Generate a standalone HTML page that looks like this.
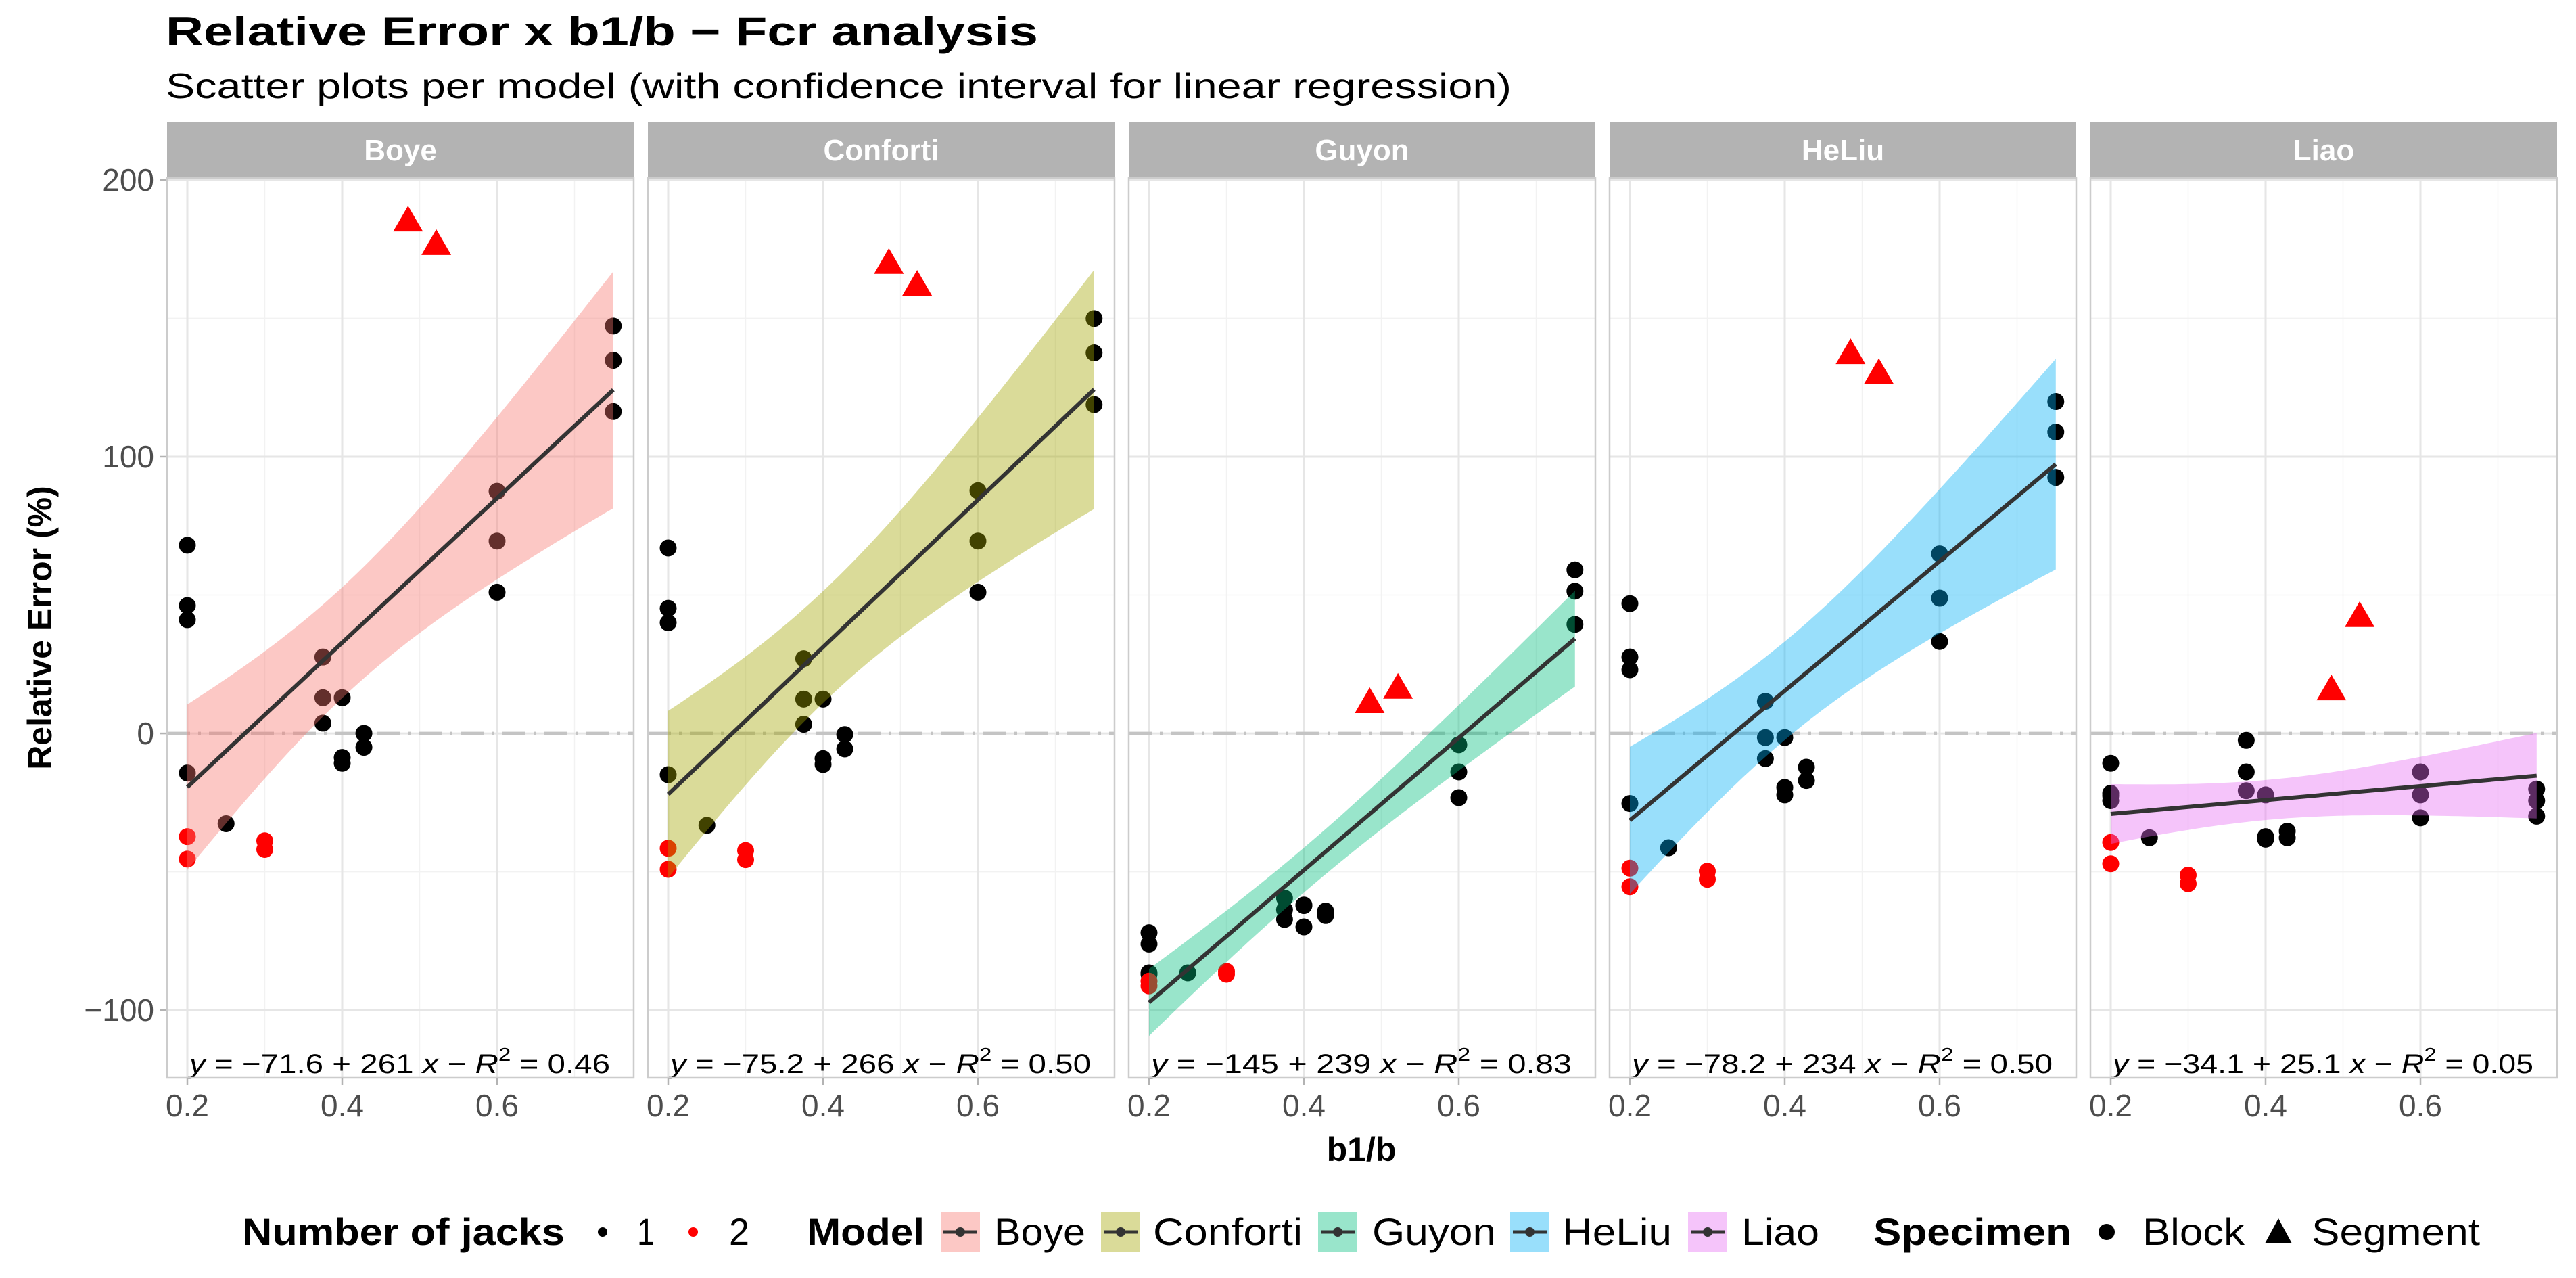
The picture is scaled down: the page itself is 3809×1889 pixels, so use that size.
<!DOCTYPE html>
<html><head><meta charset="utf-8"><style>
html,body{margin:0;padding:0;background:#fff;}
svg{display:block;}
text{font-family:"Liberation Sans",Arial,sans-serif;}
</style></head><body>
<svg id="chart" xmlns="http://www.w3.org/2000/svg" width="3809" height="1889" viewBox="0 0 3809 1889">
<rect width="3809" height="1889" fill="#fff"/>
<text x="245" y="67" font-size="60" font-weight="bold" fill="#000" textLength="1290" lengthAdjust="spacingAndGlyphs">Relative Error x b1/b − Fcr analysis</text>
<text x="245" y="145" font-size="52" fill="#000" textLength="1990" lengthAdjust="spacingAndGlyphs">Scatter plots per model (with confidence interval for linear regression)</text>
<text transform="translate(76,928) rotate(-90)" text-anchor="middle" font-size="50" font-weight="bold" fill="#000">Relative Error (%)</text>
<text x="2013" y="1716" text-anchor="middle" font-size="50" font-weight="bold" fill="#000">b1/b</text>
<g id="panels"></g>
<g id="legend"></g>
</svg>
<script>
const models = ["Boye","Conforti","Guyon","HeLiu","Liao"];
const fills = ["#F8766D","#A3A500","#00BF7D","#00B0F6","#E76BF3"];
const intercepts = [-71.6,-75.2,-145,-78.2,-34.1];
const slopes = [261,266,239,234,25.1];
const interceptLabels = ["71.6","75.2","145","78.2","34.1"];
const slopeLabels = ["261","266","239","234","25.1"];
const r2Labels = ["0.46","0.50","0.83","0.50","0.05"];
const blockX = [0.2,0.2,0.2,0.2,0.2,0.2,0.25,0.3,0.3,0.375,0.375,0.375,0.4,0.4,0.4,0.428,0.428,0.6,0.6,0.6,0.75,0.75,0.75];
const blockJacks = [1,1,1,1,2,2,1,2,2,1,1,1,1,1,1,1,1,1,1,1,1,1,1];
const boyeY = [68.0,46.2,41.1,-14.3,-37.3,-45.4,-32.6,-38.8,-41.9,27.6,12.9,3.7,12.9,-8.7,-10.8,0,-5.0,87.5,69.5,51.0,147.2,134.8,116.3];
const confortiY = [67.0,45.2,40.0,-14.9,-41.5,-49.1,-33.2,-42.3,-45.6,27.0,12.4,3.3,12.4,-9.1,-11.2,-0.4,-5.6,87.7,69.5,51.0,149.9,137.5,118.8];
const guyonY = [-72.0,-76.1,-86.5,-87.0,-89.5,-91.2,-86.5,-86.0,-87.0,-59.5,-63.7,-67.2,-62.2,-69.9,-62.0,-64.2,-65.8,-4.1,-13.9,-23.2,59.1,51.4,39.4];
const heliuY = [46.9,27.6,23.0,-25.3,-48.7,-55.4,-41.3,-49.8,-52.7,11.6,-1.5,-9.1,-1.5,-19.5,-22.2,-12.2,-17.0,64.9,48.9,33.2,119.9,108.9,92.5];
const liaoY = [-10.8,-21.6,-24.3,-22.5,-39.4,-47.1,-37.7,-51.2,-54.3,-2.5,-13.9,-20.7,-22.2,-37.3,-38.2,-35.3,-37.7,-13.9,-22.2,-30.5,-20.1,-24.3,-29.9];
const segmentX = [0.485,0.5215];
const boyeSegY = [186,177.5];
const confortiSegY = [170.7,162.8];
const guyonSegY = [12.0,17.2];
const heliuSegY = [138.1,130.9];
const liaoSegY = [16.6,43.1];
const xTicks = [0.2,0.4,0.6];
const xTickLabels = ["0.2","0.4","0.6"];
const xMinor = [0.3,0.5,0.7];
const yTicks = [-100,0,100,200];
const yTickLabels = ["\u2212100","0","100","200"];
const yMinor = [-50,50,150];

const allY = [boyeY,confortiY,guyonY,heliuY,liaoY];
const allSeg = [boyeSegY,confortiSegY,guyonSegY,heliuSegY,liaoSegY];
const NS = "http://www.w3.org/2000/svg";
const P_TOP = 263, P_BOT = 1593, P_W = 690, GAP = 21, P_LEFT0 = 247;
const X_MIN = 0.1738, X_MAX = 0.7764, Y_MIN = -124.4, Y_MAX = 200.7;
function sx(v, left){ return left + (v - X_MIN) / (X_MAX - X_MIN) * P_W; }
function sy(v){ return P_BOT - (v - Y_MIN) / (Y_MAX - Y_MIN) * (P_BOT - P_TOP); }
function mk(tag, attrs, parent){
  const e = document.createElementNS(NS, tag);
  for (const k in attrs) e.setAttribute(k, attrs[k]);
  parent.appendChild(e); return e;
}
const root = document.getElementById("panels");

yTicks.forEach((t,i)=>{
  const tk = mk("line",{x1:236,x2:247,y1:sy(t),y2:sy(t),stroke:"#b3b3b3","stroke-width":2.5},root);
  
  
  const lb = mk("text",{x:228,y:sy(t)+16,"text-anchor":"end","font-size":46,fill:"#4d4d4d"},root);
  lb.textContent = yTickLabels[i];
  
  
});

models.forEach((m, mi)=>{
  const left = P_LEFT0 + mi*(P_W+GAP);
  const g = mk("g",{},root);
  
  
  const st = mk("rect",{x:left,y:180,width:P_W,height:83,fill:"#b3b3b3"},g);
  
  
  const stt = mk("text",{x:left+P_W/2,y:237,"text-anchor":"middle","font-size":44,"font-weight":"bold",fill:"#fff"},g);
  stt.textContent = m;
  
  
  mk("rect",{x:left,y:P_TOP,width:P_W,height:P_BOT-P_TOP,fill:"#fff"},g);
  xMinor.forEach(v=>{ const l=mk("line",{x1:sx(v,left),x2:sx(v,left),y1:P_TOP,y2:P_BOT,stroke:"#f2f2f2","stroke-width":1.5},g);
      });
  yMinor.forEach(v=>{ const l=mk("line",{x1:left,x2:left+P_W,y1:sy(v),y2:sy(v),stroke:"#f2f2f2","stroke-width":1.5},g);
      });
  xTicks.forEach(v=>{ const l=mk("line",{x1:sx(v,left),x2:sx(v,left),y1:P_TOP,y2:P_BOT,stroke:"#e6e6e6","stroke-width":3},g);
      });
  yTicks.forEach(v=>{ const l=mk("line",{x1:left,x2:left+P_W,y1:sy(v),y2:sy(v),stroke:"#e6e6e6","stroke-width":3},g);
      });
  const zl = mk("line",{x1:left,x2:left+P_W,y1:sy(0),y2:sy(0),stroke:"#c4c4c4","stroke-width":5,"stroke-dasharray":"34 12 4 12"},g);
  
  
  const ys = allY[mi];
  blockX.forEach((xv,i)=>{
    const c = mk("circle",{cx:sx(xv,left),cy:sy(ys[i]),r:12.5,fill:blockJacks[i]===2?"#ff0000":"#000"},g);
    
    
  });
  allSeg[mi].forEach((yv,i)=>{
    const cx = sx(segmentX[i],left), cy = sy(yv);
    const t = mk("polygon",{points:`${cx},${cy-19} ${cx-22},${cy+19} ${cx+22},${cy+19}`,fill:"#ff0000"},g);
    
    
  });
  const n = blockX.length;
  const mx = blockX.reduce((a,b)=>a+b,0)/n;
  let sxx=0, sse=0;
  blockX.forEach((xv,i)=>{ sxx += (xv-mx)*(xv-mx); const r = ys[i]-(intercepts[mi]+slopes[mi]*xv); sse += r*r; });
  const s = Math.sqrt(sse/(n-2)), tq = 2.45;
  const xa = Math.min(...blockX), xb = Math.max(...blockX);
  const up=[], lo=[];
  for (let k=0;k<=60;k++){
    const xv = xa + (xb-xa)*k/60;
    const yh = intercepts[mi]+slopes[mi]*xv;
    const hw = tq*s*Math.sqrt(1/n + (xv-mx)*(xv-mx)/sxx);
    up.push(`${sx(xv,left).toFixed(1)},${sy(yh+hw).toFixed(1)}`);
    lo.unshift(`${sx(xv,left).toFixed(1)},${sy(yh-hw).toFixed(1)}`);
  }
  const rb = mk("polygon",{points:up.concat(lo).join(" "),fill:fills[mi],"fill-opacity":0.4},g);
  
  
  const rl = mk("line",{x1:sx(xa,left),y1:sy(intercepts[mi]+slopes[mi]*xa),x2:sx(xb,left),y2:sy(intercepts[mi]+slopes[mi]*xb),stroke:"#333","stroke-width":6},g);
  
  
  const eq = mk("text",{x:left+33,y:1586,"font-size":40,fill:"#000",textLength:622,lengthAdjust:"spacingAndGlyphs"},g);
  eq.innerHTML = `<tspan font-style="italic">y</tspan> = \u2212${interceptLabels[mi]} + ${slopeLabels[mi]} <tspan font-style="italic">x</tspan>  \u2212  <tspan font-style="italic">R</tspan><tspan dy="-18" font-size="28">2</tspan><tspan dy="18"> = ${r2Labels[mi]}</tspan>`;
  
  
  mk("rect",{x:left,y:P_TOP,width:P_W,height:P_BOT-P_TOP,fill:"none",stroke:"#cccccc","stroke-width":2.5},g);
  xTicks.forEach((v,i)=>{
    const tk = mk("line",{x1:sx(v,left),x2:sx(v,left),y1:P_BOT,y2:P_BOT+11,stroke:"#b3b3b3","stroke-width":2.5},g);
    
    
    const lb = mk("text",{x:sx(v,left),y:1650,"text-anchor":"middle","font-size":46,fill:"#4d4d4d"},g);
    lb.textContent = xTickLabels[i];
    
    
  });
});

const lg = document.getElementById("legend");
function ltext(x, txt, bold, len, name){
  const t = mk("text",{x:x,y:1840,"font-size":56,fill:"#000","font-weight":bold?"bold":"normal",textLength:len,lengthAdjust:"spacingAndGlyphs"},lg);
  t.textContent = txt;
  
  
}
ltext(358,"Number of jacks",true,477,"legend-title-jacks");
const d1 = mk("circle",{cx:891,cy:1821,r:7,fill:"#000"},lg);
 
ltext(942,"1",false,26,"legend-label-jacks-1");
const d2 = mk("circle",{cx:1025,cy:1821,r:7,fill:"#ff0000"},lg);
 
ltext(1078,"2",false,30,"legend-label-jacks-2");
ltext(1193,"Model",true,174,"legend-title-model");
const keyX = [1391,1628,1949,2233,2496];
const labX = [1470,1705,2029,2310,2575];
const labW = [135,221,183,162,115];
models.forEach((m,i)=>{
  const r = mk("rect",{x:keyX[i],y:1792,width:58,height:58,fill:fills[i],"fill-opacity":0.4},lg);
   
  mk("line",{x1:keyX[i]+4,x2:keyX[i]+54,y1:1821,y2:1821,stroke:"#333","stroke-width":5},lg);
  mk("circle",{cx:keyX[i]+29,cy:1821,r:7,fill:"#333"},lg);
  ltext(labX[i],m,false,labW[i],"legend-label-" + m.toLowerCase());
});
ltext(2770,"Specimen",true,293,"legend-title-specimen");
const bd = mk("circle",{cx:3115,cy:1821,r:12,fill:"#000"},lg);
 
ltext(3168,"Block",false,151,"legend-label-block");
const tr = mk("polygon",{points:"3369,1801 3349,1838 3389,1838",fill:"#000"},lg);
 
ltext(3418,"Segment",false,249,"legend-label-segment");
</script>
</body></html>
